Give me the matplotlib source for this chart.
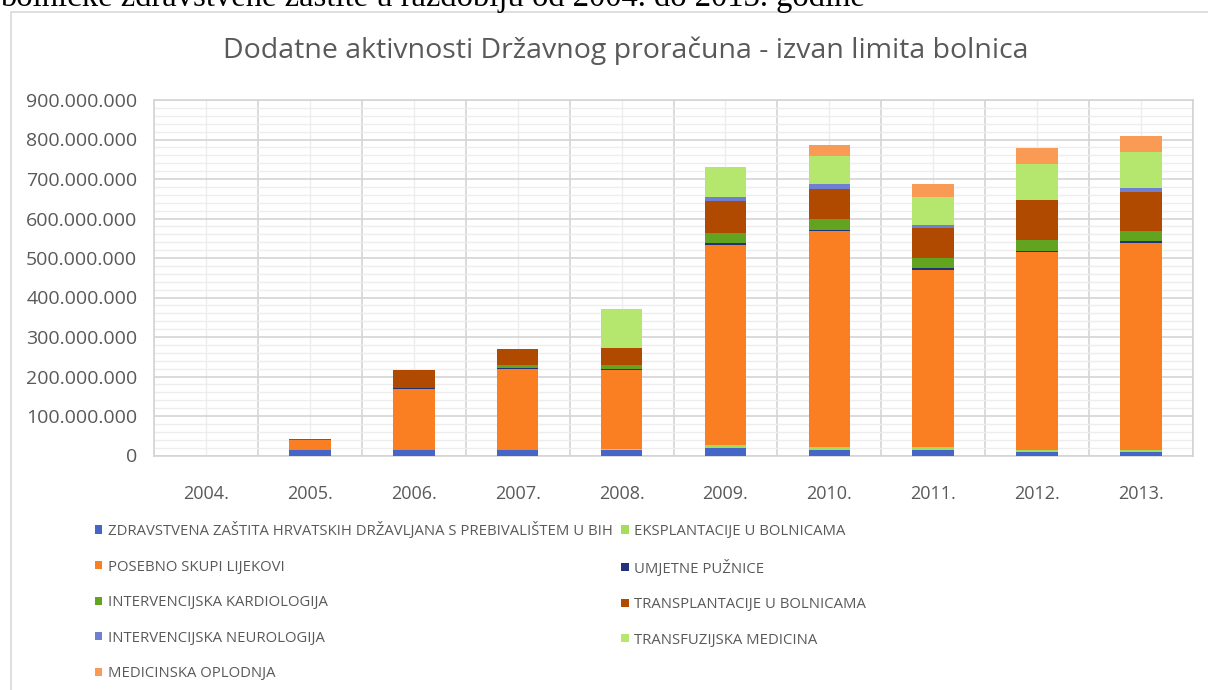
import matplotlib
matplotlib.use("Agg")
import matplotlib.pyplot as plt
from matplotlib.patches import Rectangle
from matplotlib.ticker import FuncFormatter, MultipleLocator
import numpy as np

# values, in millions of kuna
years = ['2004.', '2005.', '2006.', '2007.', '2008.', '2009.', '2010.', '2011.', '2012.', '2013.']
bih = [0, 15, 15, 15, 15, 19, 15, 14, 9, 9]
eksplantacije = [0, 0, 0, 0, 1, 8, 7, 8, 6, 6]
lijekovi = [0, 24, 154, 204, 201, 505, 546, 447, 499, 524]
puznice = [0, 0, 1, 2, 3, 5, 4, 6, 4, 4]
kardiologija = [0, 0, 1, 7, 8, 27, 27, 25, 27, 25]
transplantacije = [0, 3, 46, 42, 43, 81, 76, 76, 102, 99]
neurologija = [0, 0, 0, 0, 0, 9, 13, 8, 1, 10]
transfuzija = [0, 0, 0, 0, 101, 76, 70, 70, 90, 91]
oplodnja = [0, 0, 0, 0, 0, 0, 29, 33, 40, 40]

series = [
    ('ZDRAVSTVENA ZAŠTITA HRVATSKIH DRŽAVLJANA S PREBIVALIŠTEM U BIH', bih, '#4565C7'),
    ('EKSPLANTACIJE U BOLNICAMA', eksplantacije, '#A2DE58'),
    ('POSEBNO SKUPI LIJEKOVI', lijekovi, '#F97F22'),
    ('UMJETNE PUŽNICE', puznice, '#22337A'),
    ('INTERVENCIJSKA KARDIOLOGIJA', kardiologija, '#62A31F'),
    ('TRANSPLANTACIJE U BOLNICAMA', transplantacije, '#B04A00'),
    ('INTERVENCIJSKA NEUROLOGIJA', neurologija, '#6F80D2'),
    ('TRANSFUZIJSKA MEDICINA', transfuzija, '#B5E66E'),
    ('MEDICINSKA OPLODNJA', oplodnja, '#F99A55'),
]

plt.rcParams['font.family'] = ['Open Sans', 'DejaVu Sans']
txt = '#595959'

fig = plt.figure(figsize=(12.08, 6.9), dpi=100)
W, H = 1208, 690

# outer chart frame
fig.patches.append(Rectangle((11 / W, -0.1), 1.2, 1 - 12 / H + 0.1, transform=fig.transFigure,
                             fill=False, edgecolor='#D9D9D9', linewidth=1.2))

# cut-off line of document text above the chart
fig.text(0.0, 1 - 6 / H, 'bolničke zdravstvene zaštite u razdoblju od 2004. do 2013. godine',
         family='Liberation Serif', fontsize=23.5, color='black', ha='left', va='baseline')

ax = fig.add_axes([154 / W, 1 - 455.5 / H, (1193 - 154) / W, (455.5 - 100) / H])

x = np.arange(len(years))
bottom = np.zeros(len(years))
handles = []
for name, vals, col in series:
    v = np.array(vals) * 1e6
    h = ax.bar(x, v, width=0.4, bottom=bottom, color=col, label=name, zorder=3)
    handles.append(h)
    bottom += v

ax.set_xlim(-0.5, len(years) - 0.5)
ax.set_ylim(0, 900e6)
ax.set_xticks(x)
ax.set_xticklabels(years)
ax.set_xticks(np.arange(-0.5, len(years)), minor=True)
ax.yaxis.set_major_locator(MultipleLocator(100e6))
ax.yaxis.set_minor_locator(MultipleLocator(20e6))
ax.yaxis.set_major_formatter(FuncFormatter(lambda v, p: '{:,.0f}'.format(v).replace(',', '.')))

ax.xaxis.grid(True, which='minor', color='#D4D4D4', linewidth=1.2, zorder=0)
ax.xaxis.grid(True, which='major', color='#EDEDED', linewidth=1.0, zorder=0)
ax.yaxis.grid(True, which='major', color='#D4D4D4', linewidth=1.2, zorder=0)
ax.yaxis.grid(True, which='minor', color='#EDEDED', linewidth=1.0, zorder=0)
ax.set_axisbelow(True)

ax.tick_params(which='both', length=0)
ax.tick_params(axis='y', pad=12, labelsize=14, labelcolor=txt)
ax.tick_params(axis='x', pad=21, labelsize=13, labelcolor=txt)
for s in ax.spines.values():
    s.set_color('#D4D4D4')
    s.set_linewidth(1.2)

fig.text(626 / W, 1 - 51 / H, 'Dodatne aktivnosti Državnog proračuna - izvan limita bolnica',
         fontsize=20.5, color=txt, ha='center', va='center')

# legend is filled row by row in the original, matplotlib fills by column
order = [0, 2, 4, 6, 8, 1, 3, 5, 7]
leg = fig.legend([handles[i] for i in order], [series[i][0] for i in order],
                 loc='upper left', bbox_to_anchor=(95 / W, 1 - 522 / H), ncol=2, frameon=False,
                 fontsize=10.7, handlelength=0.5, handleheight=0.5, handletextpad=0.35,
                 labelspacing=1.38, columnspacing=0.6, borderpad=0, borderaxespad=0)
for t in leg.get_texts():
    t.set_color(txt)

fig.savefig('out.png', dpi=100)
